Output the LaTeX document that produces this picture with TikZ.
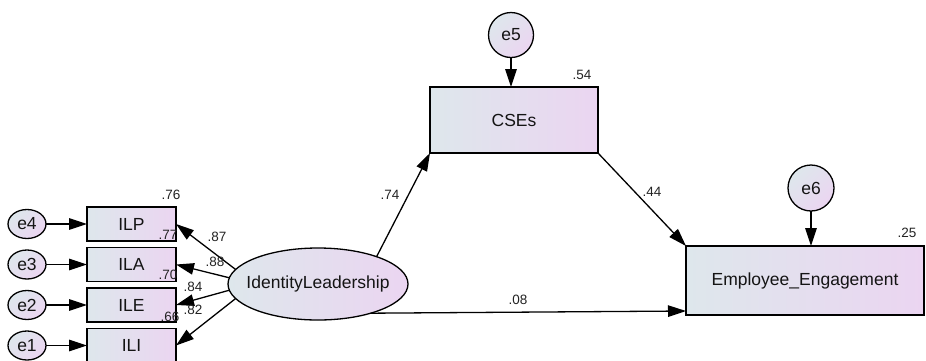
\documentclass[tikz,border=0pt]{standalone}
\usepackage{fontspec}
\setmainfont{Liberation Sans}
\usetikzlibrary{arrows.meta,shapes.geometric,calc}
\definecolor{fillL}{RGB}{222,231,236}
\definecolor{fillR}{RGB}{235,213,241}
\definecolor{lab}{RGB}{35,35,35}
\begin{document}
\begin{tikzpicture}[x=1pt,y=-1pt,
  nodefont/.style={font=\fontsize{17.5}{20}\selectfont, text=black!92},
  obs/.style={draw=black, line width=1.6pt, rectangle, left color=fillL, right color=fillR,
    inner sep=0pt, outer sep=0pt, nodefont},
  err/.style={draw=black, line width=1.3pt, ellipse, left color=fillL, right color=fillR,
    shading angle=45, inner sep=0pt, outer sep=0pt, nodefont},
  lat/.style={draw=black, line width=1.3pt, ellipse, left color=fillL, right color=fillR,
    inner xsep=-12pt, inner ysep=0pt, outer sep=0pt, minimum width=180pt, minimum height=72pt, nodefont},
  reg/.style={line width=1.3pt, -{Triangle[length=18pt,width=11.5pt]}},
  coef/.style={font=\fontsize{13.5}{15}\selectfont, text=lab, inner sep=0pt}]
\fill[white] (0,0) rectangle (926,360);
\useasboundingbox (0,0) rectangle (926,360);

% observed indicators
\node[obs, minimum width=89pt, minimum height=34pt] (ILP) at (131.5,224) {ILP};
\node[obs, minimum width=89pt, minimum height=34pt] (ILA) at (131.5,264.5) {ILA};
\node[obs, minimum width=89pt, minimum height=34pt] (ILE) at (131.5,305) {ILE};
\node[obs, minimum width=89pt, minimum height=34pt] (ILI) at (131.5,345.5) {ILI};

% error terms of indicators
\node[err, minimum width=38pt, minimum height=29pt] (e4) at (27,224) {e4};
\node[err, minimum width=38pt, minimum height=29pt] (e3) at (27,264.5) {e3};
\node[err, minimum width=38pt, minimum height=29pt] (e2) at (27,305) {e2};
\node[err, minimum width=38pt, minimum height=29pt] (e1) at (27,345.5) {e1};

% latent variable
\node[lat] (IL) at (318,284) {IdentityLeadership};

% endogenous variables
\node[obs, minimum width=168pt, minimum height=66pt] (CSEs) at (514,120) {CSEs};
\node[obs, minimum width=238pt, minimum height=69pt] (EE) at (805,280.5) {Employee\_Engagement};

\node[err, minimum width=45pt, minimum height=45pt] (e5) at (511,35) {e5};
\node[err, minimum width=46pt, minimum height=46pt] (e6) at (811,188) {e6};

% error arrows
\draw[reg] (e4) -- (ILP);
\draw[reg] (e3) -- (ILA);
\draw[reg] (e2) -- (ILE);
\draw[reg] (e1) -- (ILI);
\draw[reg] (e5) -- (e5 |- CSEs.north);
\draw[reg] (e6) -- (e6 |- EE.north);

% loadings
\draw[reg] (IL.170) -- (ILP.east);
\draw[reg] (IL.176) -- (ILA.east);
\draw[reg] (IL.184) -- (ILE.east);
\draw[reg] (IL.190) -- (ILI.east);

% structural paths
\draw[reg] (IL.25) -- (CSEs.south west);
\draw[reg] (CSEs.south east) -- (EE.north west);
\coordinate (EEin) at ($(EE.south west)+(0,-4)$);
\draw[reg] (IL.-29) -- (EEin);

% coefficients
\node[coef] (c76) at (171,195) {.76};
\node[coef] (c77) at (168,235) {.77};
\node[coef] (c70) at (168,275) {.70};
\node[coef] (c66) at (170,317) {.66};
\node[coef] (c87) at (217,237) {.87};
\node[coef] (c88) at (215,262) {.88};
\node[coef] (c84) at (193,287) {.84};
\node[coef] (c82) at (193,310) {.82};
\node[coef] (c74) at (390,195) {.74};
\node[coef] (c44) at (652,192) {.44};
\node[coef] (c08) at (518,300) {.08};
\node[coef] (c54) at (582,75) {.54};
\node[coef] (c25) at (907,233) {.25};
\end{tikzpicture}
\end{document}
